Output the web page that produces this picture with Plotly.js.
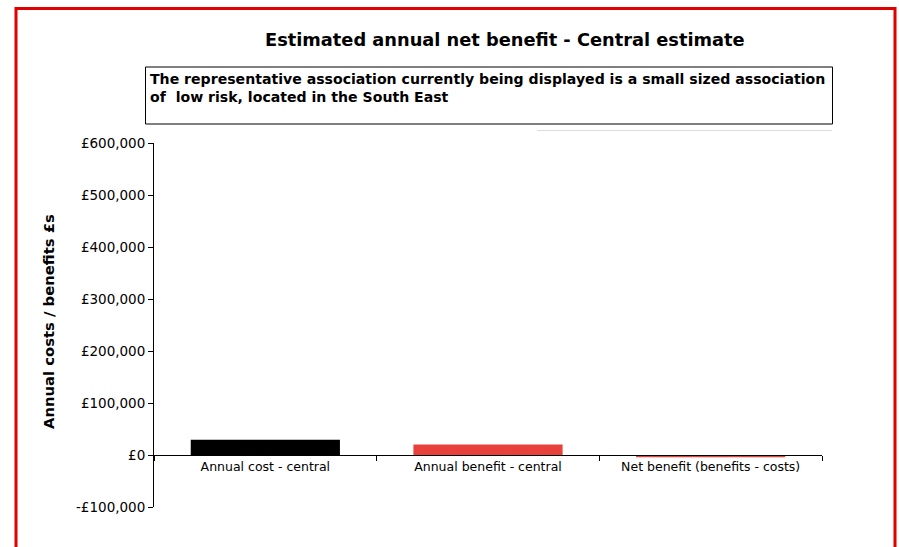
<!DOCTYPE html>
<html>
<head>
<meta charset="utf-8">
<script src="https://cdn.plot.ly/plotly-3.0.1.min.js"></script>
<style>html,body{margin:0;padding:0;background:#fff;}#chart{width:899px;height:547px;}</style>
</head>
<body>
<div id="chart"></div>
<script>
const categories = ["Annual cost - central", "Annual benefit - central", "Net benefit (benefits - costs)"];
const values = [29500, 20000, -4500];
const barColors = ["#000000", "#e8403a", "#e8403a"];
const yTickVals = [-100000, 0, 100000, 200000, 300000, 400000, 500000, 600000];
const yTickText = ["-£100,000", "£0", "£100,000", "£200,000", "£300,000", "£400,000", "£500,000", "£600,000"];
const titleText = "Estimated annual net benefit - Central estimate";
const boxText = "The representative association currently being displayed is a small sized association<br>of  low risk, located in the South East";
const yTitle = "Annual costs / benefits £s";

const W = 899, H = 547;
const L = 154, R = 77, T = 143, B = 40;
const pw = W - L - R, ph = H - T - B;
function px(x) { return (x - L) / pw; }
function py(y) { return (H - B - y) / ph; }

const font = "DejaVu Sans, Arial, sans-serif";

const data = [{
  type: "bar",
  x: categories,
  y: values,
  marker: { color: barColors, line: { width: 0 } },
  hoverinfo: "x+y"
}];

const layout = {
  width: W, height: H,
  margin: { l: L, r: R, t: T, b: B, pad: 0 },
  paper_bgcolor: "#ffffff",
  plot_bgcolor: "rgba(0,0,0,0)",
  showlegend: false,
  bargap: 0.33,
  font: { family: font, size: 12, color: "#000" },
  xaxis: {
    type: "category",
    anchor: "free",
    position: py(455),
    showline: true, linecolor: "#000", linewidth: 1,
    ticks: "outside", ticklen: 5, tickcolor: "#000",
    tickson: "boundaries",
    showgrid: false, zeroline: false,
    tickfont: { family: font, size: 12.5, color: "#000" },
    fixedrange: true
  },
  yaxis: {
    range: [-100000, 600000],
    tickvals: yTickVals, ticktext: yTickText,
    showline: true, linecolor: "#000", linewidth: 1,
    ticks: "outside", ticklen: 5, tickcolor: "#000",
    showgrid: false, zeroline: false,
    tickfont: { family: font, size: 13.5, color: "#000" },
    fixedrange: true
  },
  shapes: [
    { type: "rect", xref: "paper", yref: "paper", x0: px(16), x1: px(895), y0: py(570), y1: py(8.5),
      line: { color: "#e00000", width: 3 }, fillcolor: "rgba(0,0,0,0)", layer: "above" },
    { type: "rect", xref: "paper", yref: "paper", x0: px(145.5), x1: px(832.5), y0: py(124), y1: py(67),
      line: { color: "#000", width: 1 }, fillcolor: "rgba(0,0,0,0)" },
    { type: "line", xref: "paper", yref: "paper", x0: px(537), x1: px(832), y0: py(130.5), y1: py(130.5),
      line: { color: "#dcdcdc", width: 1 } }
  ],
  annotations: [
    { text: "<b>" + titleText + "</b>", xref: "paper", yref: "paper", x: px(505), y: py(40),
      xanchor: "center", yanchor: "middle", showarrow: false, font: { family: font, size: 17.8, color: "#000" } },
    { text: "<b>" + boxText + "</b>", xref: "paper", yref: "paper", x: px(148), y: py(69),
      xanchor: "left", yanchor: "top", align: "left", showarrow: false,
      font: { family: font, size: 14.1, color: "#000" } },
    { text: "<b>" + yTitle + "</b>", xref: "paper", yref: "paper", x: px(48), y: py(322),
      xanchor: "center", yanchor: "middle", textangle: -90, showarrow: false,
      font: { family: font, size: 14.8, color: "#000" } }
  ]
};

Plotly.newPlot("chart", data, layout, { displayModeBar: false, staticPlot: true });
</script>
</body>
</html>
